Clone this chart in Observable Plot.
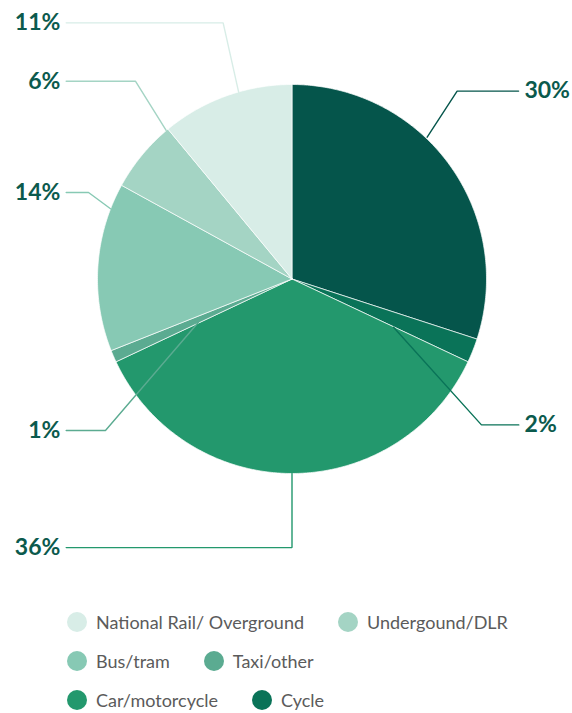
<!DOCTYPE html>
<html><head><meta charset="utf-8">
<script src="https://cdn.jsdelivr.net/npm/d3@7"></script>
<script src="https://cdn.jsdelivr.net/npm/@observablehq/plot@0.6"></script>
<style>
body{margin:0;background:#fff;font-family:Lato,sans-serif;}
#legend{padding-top:12px;padding-left:67px;}
.row{display:flex;align-items:center;height:39px;}
.item{display:flex;align-items:center;margin-right:34px;}
.sw{width:20px;height:20px;border-radius:50%;margin-right:9px;flex:none;}
.lb{font-size:18px;color:#5b5b5b;white-space:nowrap;}
</style></head><body>
<div id="chart"></div><div id="legend"></div>
<script>
// Data (clockwise from 12 o'clock)
const categories = ["Walk","Cycle","Car/motorcycle","Taxi/other","Bus/tram","Undergound/DLR","National Rail/ Overground"];
const shares = [30, 2, 36, 1, 14, 6, 11];
const colors = ["#05554b","#0a7358","#23986d","#5bab91","#87c9b4","#a4d4c4","#d8ede7"];
const legendRows = [["National Rail/ Overground","Undergound/DLR"],["Bus/tram","Taxi/other"],["Car/motorcycle","Cycle"]];

// Leader-line layout, in pie-radius units (centre 0,0 ; radius 1 ; y up)
const leaderStart = [[0.695,0.729],[0.522,-0.248],[0,-1],[-0.481,-0.222],[-0.933,0.361],[-0.647,0.764],[-0.274,0.960]];
const leaderBend  = [[0.849,0.966],[0.974,-0.750],[0,-1.381],[-0.959,-0.779],[-1.046,0.445],[-0.805,1.017],[-0.354,1.317]];
const leaderEndX  = [1.165,1.166,-1.161,-1.161,-1.161,-1.161,-1.161];

const W = 572, H = 590, R = 194.5, cx = 291.5, cy = 278.5;

const arcs = d3.pie().sort(null).value(d => d)(shares);
const slices = [];
arcs.forEach((a, i) => {
  const n = Math.max(2, Math.ceil((a.endAngle - a.startAngle) / 0.01));
  slices.push({name: categories[i], x: 0, y: 0});
  for (let k = 0; k <= n; k++) {
    const t = a.startAngle + (a.endAngle - a.startAngle) * k / n;
    slices.push({name: categories[i], x: Math.sin(t), y: Math.cos(t)});
  }
  slices.push({name: categories[i], x: 0, y: 0});
});

const leaders = [];
const labels = [];
categories.forEach((c, i) => {
  const [sx, sy] = leaderStart[i], [bx, by] = leaderBend[i], ex = leaderEndX[i];
  leaders.push({name: c, x: sx, y: sy}, {name: c, x: bx, y: by}, {name: c, x: ex, y: by});
  const right = ex > 0;
  labels.push({name: c, text: shares[i] + "%", x: ex + (right ? 0.03 : -0.03), y: by, right});
});

const chart = Plot.plot({
  width: W, height: H, margin: 0,
  x: {domain: [-cx / R, (W - cx) / R], axis: null},
  y: {domain: [(cy - H) / R, cy / R], axis: null},
  color: {domain: categories, range: colors},
  style: {fontFamily: "Lato, sans-serif", background: "white", overflow: "visible"},
  marks: [
    Plot.line(slices, {x: "x", y: "y", z: "name", fill: "name", stroke: "white", strokeWidth: 0.7, curve: "linear"}),
    Plot.line(leaders, {x: "x", y: "y", z: "name", stroke: "name", strokeWidth: 1.4, curve: "linear", strokeLinejoin: "miter"}),
    Plot.text(labels.filter(d => !d.right), {x: "x", y: "y", text: "text", textAnchor: "end", fontSize: 23, fontWeight: 700, fill: "#0b5a4d"}),
    Plot.text(labels.filter(d => d.right), {x: "x", y: "y", text: "text", textAnchor: "start", fontSize: 23, fontWeight: 700, fill: "#0b5a4d"})
  ]
});
document.getElementById("chart").appendChild(chart);

const color = d3.scaleOrdinal(categories, colors);
const leg = document.getElementById("legend");
legendRows.forEach(row => {
  const r = document.createElement("div"); r.className = "row";
  row.forEach(name => {
    const it = document.createElement("div"); it.className = "item";
    const sw = document.createElement("span"); sw.className = "sw"; sw.style.background = color(name);
    const lb = document.createElement("span"); lb.className = "lb"; lb.textContent = name;
    it.append(sw, lb); r.appendChild(it);
  });
  leg.appendChild(r);
});
</script>
</body></html>
